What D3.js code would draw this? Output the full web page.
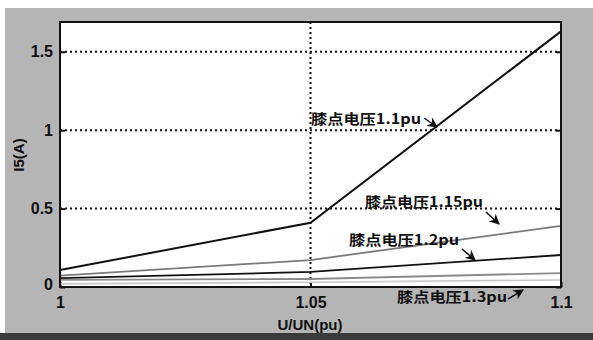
<!DOCTYPE html>
<html>
<head>
<meta charset="utf-8">
<script src="https://cdn.jsdelivr.net/npm/d3@7"></script>
<style>
  body { margin: 0; background: #fff; }
  svg { display: block; }
  .tick text { font-family: "Liberation Sans Narrow", "Liberation Sans", Arial, sans-serif; font-weight: bold; font-size: 16px; fill: #111; }
  .note { font-family: "Noto Sans CJK SC", sans-serif; font-weight: bold; font-size: 14px; fill: #111; }
</style>
</head>
<body>
<div id="chart"></div>
<script>
var svgWidth = 593;
var svgHeight = 340;
var margin = { top: 22, right: 32, bottom: 53, left: 60 };
var width = 561 - margin.left;
var height = 287 - margin.top;

// data
var xValues = [1, 1.05, 1.1];
var xTicks = [1, 1.05, 1.1];
var yTicks = [0, 0.5, 1, 1.5];
var curve11 = [0.108, 0.41, 1.63];
var curve115 = [0.072, 0.172, 0.39];
var curve12 = [0.057, 0.096, 0.204];
var curve13 = [0.045, 0.051, 0.089];
var curveLow = [0.02, 0.03, 0.045];
var labels = ["膝点电压1.1pu", "膝点电压1.15pu", "膝点电压1.2pu", "膝点电压1.3pu"];

var svg = d3.select("#chart")
  .append("svg")
  .attr("width", svgWidth)
  .attr("height", svgHeight);

// grey figure background
svg.append("rect")
  .attr("x", 5).attr("y", 8)
  .attr("width", svgWidth - 5).attr("height", 326)
  .attr("fill", "#b5b5b5");
svg.append("rect")
  .attr("x", 0).attr("y", 333)
  .attr("width", svgWidth).attr("height", 7)
  .attr("fill", "#3a3a3a");

var chartGroup = svg.append("g")
  .attr("transform", `translate(${margin.left}, ${margin.top})`);

var xScale = d3.scaleLinear().domain([1, 1.1]).range([0, width]);
var yScale = d3.scaleLinear().domain([0, 1.69]).range([height, 0]);

chartGroup.append("rect")
  .attr("width", width).attr("height", height)
  .attr("fill", "#fff");

// dotted grid
chartGroup.selectAll(".hgrid")
  .data(yTicks.filter(d => d > 0))
  .enter()
  .append("line")
  .attr("x1", 0).attr("x2", width)
  .attr("y1", d => yScale(d)).attr("y2", d => yScale(d))
  .attr("stroke", "#111").attr("stroke-width", 2)
  .attr("stroke-dasharray", "2,3");

chartGroup.selectAll(".vgrid")
  .data([1.05])
  .enter()
  .append("line")
  .attr("x1", d => xScale(d)).attr("x2", d => xScale(d))
  .attr("y1", 0).attr("y2", height)
  .attr("stroke", "#111").attr("stroke-width", 2)
  .attr("stroke-dasharray", "2,3");

// axes
var bottomAxis = d3.axisBottom(xScale).tickValues(xTicks)
  .tickFormat(d3.format("")).tickSizeInner(-5).tickSizeOuter(0).tickPadding(10);
var leftAxis = d3.axisLeft(yScale).tickValues(yTicks)
  .tickFormat(d3.format("")).tickSizeInner(-5).tickSizeOuter(0).tickPadding(7);
var rightAxis = d3.axisRight(yScale).tickValues(yTicks)
  .tickFormat("").tickSizeInner(-5).tickSizeOuter(0);

var xAxis = chartGroup.append("g")
  .attr("transform", `translate(0, ${height})`)
  .call(bottomAxis);
var yAxis = chartGroup.append("g").call(leftAxis);
chartGroup.append("g").attr("transform", `translate(${width}, 0)`).call(rightAxis);
chartGroup.selectAll(".domain").remove();
chartGroup.selectAll(".tick line").attr("stroke", "#111").attr("stroke-width", 2);

yAxis.selectAll(".tick text").filter(d => d === 0).attr("dy", "0.15em");

// curves
var line = d3.line()
  .x((d, i) => xScale(xValues[i]))
  .y(d => yScale(d));

var series = [
  { values: curveLow, color: "#c8c8c8", w: 1.6 },
  { values: curve13, color: "#8a8a8a", w: 1.8 },
  { values: curve12, color: "#111", w: 1.8 },
  { values: curve115, color: "#7a7a7a", w: 1.8 },
  { values: curve11, color: "#111", w: 2 }
];

chartGroup.selectAll(".curve")
  .data(series)
  .enter()
  .append("path")
  .attr("d", d => line(d.values))
  .attr("fill", "none")
  .attr("stroke", d => d.color)
  .attr("stroke-width", d => d.w);

// box
chartGroup.append("rect")
  .attr("width", width).attr("height", height)
  .attr("fill", "none").attr("stroke", "#111").attr("stroke-width", 2);

// annotations with arrows
svg.append("defs").append("marker")
  .attr("id", "arrow")
  .attr("viewBox", "0 0 10 10")
  .attr("refX", 9).attr("refY", 5)
  .attr("markerWidth", 7).attr("markerHeight", 7)
  .attr("orient", "auto")
  .append("path")
  .attr("d", "M0,0 L10,5 L0,10 L3,5 Z")
  .attr("fill", "#111");

var notes = [
  { text: labels[0], x: 311, y: 124, ax: [424, 118, 437, 127] },
  { text: labels[1], x: 365, y: 207, ax: [486, 212, 499, 224] },
  { text: labels[2], x: 349, y: 245, ax: [462, 249, 475, 260] },
  { text: labels[3], x: 397, y: 302, ax: [508, 299, 523, 290] }
];

svg.selectAll(".note")
  .data(notes)
  .enter()
  .append("text")
  .attr("class", "note")
  .attr("x", d => d.x).attr("y", d => d.y)
  .attr("textLength", (d, i) => i === 1 ? 118 : 110)
  .attr("lengthAdjust", "spacingAndGlyphs")
  .text(d => d.text);

svg.selectAll(".arr")
  .data(notes)
  .enter()
  .append("line")
  .attr("x1", d => d.ax[0]).attr("y1", d => d.ax[1])
  .attr("x2", d => d.ax[2]).attr("y2", d => d.ax[3])
  .attr("stroke", "#111").attr("stroke-width", 1.5)
  .attr("marker-end", "url(#arrow)");

// axis titles
svg.append("text")
  .attr("x", 310).attr("y", 330)
  .attr("text-anchor", "middle")
  .attr("font-family", "Liberation Sans Narrow, Liberation Sans, sans-serif")
  .attr("font-weight", "bold").attr("font-size", 15)
  .attr("fill", "#111")
  .text("U/UN(pu)");

svg.append("text")
  .attr("transform", "translate(24, 155) rotate(-90)")
  .attr("text-anchor", "middle")
  .attr("font-family", "Liberation Sans Narrow, Liberation Sans, sans-serif")
  .attr("font-weight", "bold").attr("font-size", 15)
  .attr("fill", "#111")
  .text("I5(A)");
</script>
</body>
</html>
